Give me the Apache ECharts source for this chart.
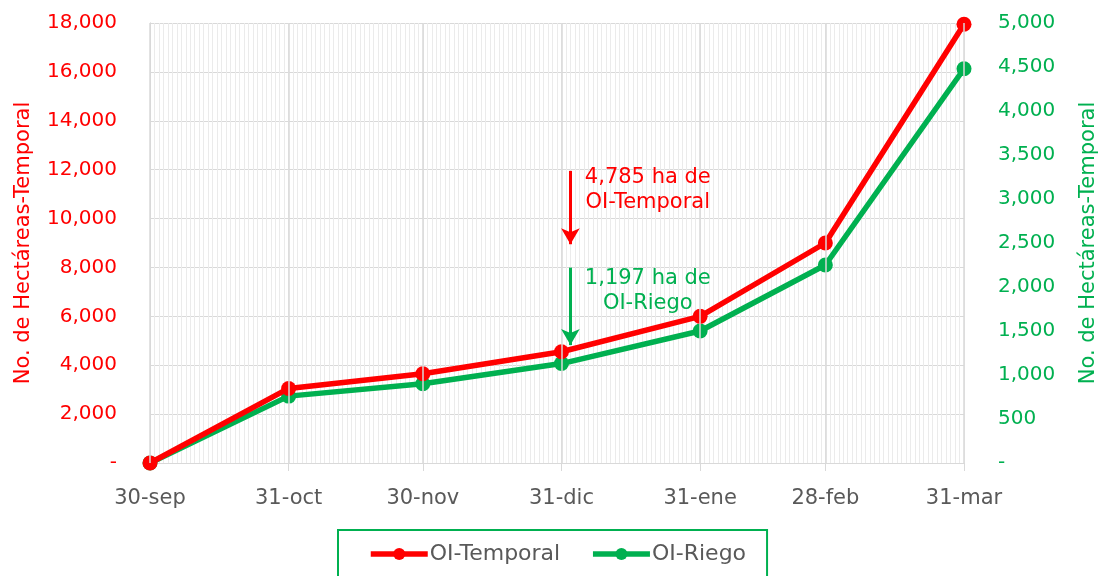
<!DOCTYPE html>
<html><head><meta charset="utf-8">
<script src="https://cdn.jsdelivr.net/npm/echarts@6/dist/echarts.min.js"></script>
<style>html,body{margin:0;padding:0;background:#fff}#c{width:1101px;height:576px}</style>
</head><body><div id="c"></div>
<script>
// ---- data ----
const dates = ['2020-09-30','2020-10-31','2020-11-30','2020-12-31','2021-01-31','2021-02-28','2021-03-31'];
const categories = ['30-sep','31-oct','30-nov','31-dic','31-ene','28-feb','31-mar'];
const temporal = [0, 3050, 3650, 4550, 6000, 9000, 17950];
const riego = [0, 760, 900, 1130, 1500, 2250, 4480];
const seriesNames = ['OI-Temporal', 'OI-Riego'];
const axisName = 'No. de Hectáreas-Temporal';
const noteTemporal = '4,785 ha de\nOI-Temporal';
const noteRiego = '1,197 ha de\nOI-Riego';

// ---- derived ----
const DAY = 86400000;
const t0 = Date.parse(dates[0]);
const days = dates.map(d => Math.round((Date.parse(d) - t0) / DAY));
const maxDay = days[days.length - 1];

const RED = '#ff0000', GREEN = '#00b050', GRAY = '#595959';
const FONT = 'DejaVu Sans';
const fmt = v => v === 0 ? '-' : v.toLocaleString('en-US');

const chart = echarts.init(document.getElementById('c'), null, {renderer: 'canvas'});
chart.setOption({
  animation: false,
  textStyle: {fontFamily: FONT},
  grid: {left: 150, right: 137, top: 23, bottom: 113, outerBoundsMode: 'none', containLabel: false},
  xAxis: [{
    type: 'value', min: 0, max: maxDay,
    axisLine: {show: true, lineStyle: {color: '#d9d9d9', width: 1}},
    axisTick: {show: true, customValues: days, length: 8, lineStyle: {color: '#d9d9d9'}},
    axisLabel: {customValues: days, color: GRAY, fontSize: 21, margin: 25, fontFamily: FONT,
      formatter: v => categories[days.indexOf(Math.round(v))] || ''},
    splitLine: {show: false}
  }, {
    type: 'value', min: 0, max: maxDay, interval: 1, position: 'top',
    axisLine: {show: false}, axisTick: {show: false}, axisLabel: {show: false},
    splitLine: {show: true, lineStyle: {color: '#ebebeb', width: 1}}
  }],
  yAxis: [{
    type: 'value', min: 0, max: 18000, interval: 2000,
    name: axisName, nameLocation: 'middle', nameGap: 116, nameRotate: 90,
    nameTextStyle: {color: RED, fontSize: 21, fontFamily: FONT},
    axisLine: {show: true, lineStyle: {color: '#d9d9d9'}},
    axisTick: {show: false},
    axisLabel: {color: RED, fontSize: 20, margin: 33, formatter: fmt, fontFamily: FONT},
    splitLine: {show: true, lineStyle: {color: '#d9d9d9', width: 1}}
  }, {
    type: 'value', min: 0, max: 5000, interval: 500, position: 'right',
    name: axisName, nameLocation: 'middle', nameGap: 114, nameRotate: 90,
    nameTextStyle: {color: GREEN, fontSize: 21, fontFamily: FONT},
    axisLine: {show: true, lineStyle: {color: '#d9d9d9'}},
    axisTick: {show: false},
    axisLabel: {color: GREEN, fontSize: 20, margin: 34, formatter: fmt, fontFamily: FONT},
    splitLine: {show: false}
  }],
  legend: {
    data: seriesNames,
    left: 338, top: 530,
    borderColor: GREEN, borderWidth: 2,
    padding: [13, 21, 30, 30],
    itemWidth: 57, itemHeight: 15, itemGap: 30,
    lineStyle: {width: 5.5},
    textStyle: {color: GRAY, fontSize: 22, fontFamily: FONT, padding: [0, 0, 0, -3]}
  },
  series: [{
    type: 'line', name: '__grid', data: [], z: 1, silent: true, xAxisIndex: 0, yAxisIndex: 0,
    markLine: {
      silent: true, symbol: ['none', 'none'], label: {show: false},
      lineStyle: {color: '#d9d9d9', width: 1.5, type: 'solid'},
      data: days.map(d => ({xAxis: d}))
    }
  }, {
    type: 'line', name: seriesNames[0], xAxisIndex: 0, yAxisIndex: 0, z: 4,
    data: days.map((d, i) => [d, temporal[i]]),
    color: RED, lineStyle: {width: 5.5, color: RED},
    symbol: 'circle', symbolSize: 15, itemStyle: {color: RED},
    markLine: {
      silent: true, symbol: ['none', 'arrow'], symbolSize: [14, 16],
      label: {show: false},
      lineStyle: {color: RED, width: 3, type: 'solid'},
      data: [[{coord: [94, 11950]}, {coord: [94, 8950]}]]
    },
    markPoint: {
      silent: true, symbol: 'circle', symbolSize: 1, itemStyle: {color: 'rgba(0,0,0,0)'},
      label: {show: true, position: 'inside', color: RED, fontSize: 21, lineHeight: 25, fontFamily: FONT,
        formatter: noteTemporal},
      data: [{coord: [111.3, 11150]}]
    }
  }, {
    type: 'line', name: seriesNames[1], xAxisIndex: 0, yAxisIndex: 1, z: 3,
    data: days.map((d, i) => [d, riego[i]]),
    color: GREEN, lineStyle: {width: 5.5, color: GREEN},
    symbol: 'circle', symbolSize: 15, itemStyle: {color: GREEN},
    markLine: {
      silent: true, symbol: ['none', 'arrow'], symbolSize: [14, 16],
      label: {show: false},
      lineStyle: {color: GREEN, width: 3, type: 'solid'},
      data: [[{coord: [94, 2220]}, {coord: [94, 1340]}]]
    },
    markPoint: {
      silent: true, symbol: 'circle', symbolSize: 1, itemStyle: {color: 'rgba(0,0,0,0)'},
      label: {show: true, position: 'inside', color: GREEN, fontSize: 21, lineHeight: 25, fontFamily: FONT,
        formatter: noteRiego},
      data: [{coord: [111.3, 1950]}]
    }
  }]
});
</script>
</body></html>
